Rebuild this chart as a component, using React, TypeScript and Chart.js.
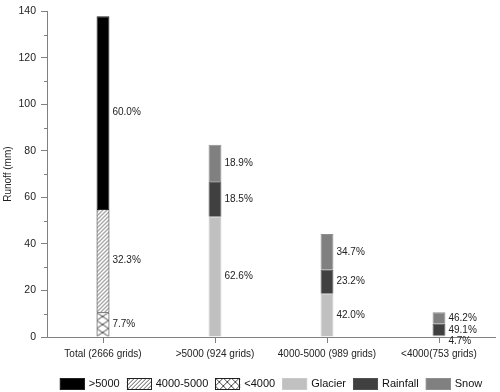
import React, { useEffect, useRef } from 'react';
import { Chart, registerables } from 'chart.js';

Chart.register(...registerables);

const categories = ['Total (2666 grids)', '>5000 (924 grids)', '4000-5000 (989 grids)', '<4000(753 grids)'];

// stacked runoff components (mm)
const seriesLt4000 = [10.6, null, null, null];
const series4000to5000 = [44.4, null, null, null];
const seriesGt5000 = [82.9, null, null, null];
const seriesGlacier = [null, 51.7, 18.6, 0.5];
const seriesRainfall = [null, 15.3, 10.3, 5.2];
const seriesSnow = [null, 15.6, 15.4, 4.9];

// percentage labels
const pctLt4000 = ['7.7%', null, null, null];
const pct4000to5000 = ['32.3%', null, null, null];
const pctGt5000 = ['60.0%', null, null, null];
const pctGlacier = [null, '62.6%', '42.0%', '4.7%'];
const pctRainfall = [null, '18.5%', '23.2%', '49.1%'];
const pctSnow = [null, '18.9%', '34.7%', '46.2%'];

const yMax = 140;
const yMajorStep = 20;
const yMinorValues = [10, 30, 50, 70, 90, 110, 130];
const legendOrder = ['>5000', '4000-5000', '<4000', 'Glacier', 'Rainfall', 'Snow'];
const yTitle = 'Runoff (mm)';

const FONT = '"Liberation Sans", Arial, Helvetica, sans-serif';

function makeHatch(): CanvasPattern | string {
  const c = document.createElement('canvas');
  c.width = 4; c.height = 4;
  const g = c.getContext('2d');
  if (!g) return '#ccc';
  g.fillStyle = '#fff';
  g.fillRect(0, 0, 4, 4);
  g.strokeStyle = '#444';
  g.lineWidth = 0.9;
  g.beginPath();
  g.moveTo(-1, 5); g.lineTo(5, -1);
  g.moveTo(-1, 1); g.lineTo(1, -1);
  g.moveTo(3, 5); g.lineTo(5, 3);
  g.stroke();
  return g.createPattern(c, 'repeat') as CanvasPattern;
}

function makeCross(w: number, h: number): CanvasPattern | string {
  const c = document.createElement('canvas');
  c.width = w; c.height = h;
  const g = c.getContext('2d');
  if (!g) return '#eee';
  g.fillStyle = '#fff';
  g.fillRect(0, 0, w, h);
  g.strokeStyle = '#333';
  g.lineWidth = 0.9;
  g.beginPath();
  g.moveTo(0, 0); g.lineTo(w, h);
  g.moveTo(0, h); g.lineTo(w, 0);
  g.stroke();
  return g.createPattern(c, 'repeat') as CanvasPattern;
}

export default function App() {
  const ref = useRef<HTMLCanvasElement | null>(null);

  useEffect(() => {
    document.body.style.margin = '0';
    const canvas = ref.current;
    if (!canvas) return;

    const hatch = makeHatch();
    const cross = makeCross(12, 8);
    const crossLegend = makeCross(8, 8);

    const datasets: any[] = [
      { label: '<4000', data: seriesLt4000, pct: pctLt4000, backgroundColor: cross, legendFill: crossLegend, borderColor: '#222', borderWidth: 1 },
      { label: '4000-5000', data: series4000to5000, pct: pct4000to5000, backgroundColor: hatch, borderColor: '#222', borderWidth: 1 },
      { label: '>5000', data: seriesGt5000, pct: pctGt5000, backgroundColor: '#000000', borderColor: '#222', borderWidth: 1 },
      { label: 'Glacier', data: seriesGlacier, pct: pctGlacier, backgroundColor: '#c0c0c0', borderColor: '#cacaca', borderWidth: 1 },
      { label: 'Rainfall', data: seriesRainfall, pct: pctRainfall, backgroundColor: '#404040', borderColor: '#505050', borderWidth: 1 },
      { label: 'Snow', data: seriesSnow, pct: pctSnow, backgroundColor: '#808080', borderColor: '#8e8e8e', borderWidth: 1 },
    ];

    const patternAlign = {
      id: 'patternAlign',
      beforeDatasetsDraw(chart: any) {
        chart.data.datasets.forEach((ds: any, di: number) => {
          const bg = ds.backgroundColor;
          if (!bg || typeof bg === 'string' || !bg.setTransform) return;
          const meta = chart.getDatasetMeta(di);
          const el = meta.data.find((e: any, i: number) => ds.data[i] != null);
          if (!el) return;
          const m = new DOMMatrix();
          m.e = el.x - el.width / 2;
          m.f = el.base;
          bg.setTransform(m);
        });
      },
    };

    const extras = {
      id: 'extras',
      afterDraw(chart: any) {
        const ctx = chart.ctx;
        const area = chart.chartArea;
        const yScale = chart.scales.y;
        ctx.save();
        // minor ticks on y axis
        ctx.strokeStyle = '#808080';
        ctx.lineWidth = 1;
        ctx.beginPath();
        yMinorValues.forEach((v) => {
          const y = Math.round(yScale.getPixelForValue(v)) + 0.5;
          ctx.moveTo(area.left - 3, y);
          ctx.lineTo(area.left, y);
        });
        ctx.stroke();

        // percentage labels
        ctx.font = `10px ${FONT}`;
        ctx.fillStyle = '#222';
        ctx.textAlign = 'left';
        ctx.textBaseline = 'middle';
        chart.data.labels.forEach((_: any, i: number) => {
          const items: { x: number; y: number; t: string }[] = [];
          chart.data.datasets.forEach((ds: any, di: number) => {
            const t = ds.pct && ds.pct[i];
            if (!t || ds.data[i] == null) return;
            const el = chart.getDatasetMeta(di).data[i];
            items.push({ x: el.x + el.width / 2 + 3, y: (el.y + el.base) / 2, t });
          });
          items.sort((a, b) => a.y - b.y);
          for (let k = 1; k < items.length; k++) {
            if (items[k].y < items[k - 1].y + 11) items[k].y = items[k - 1].y + 11;
          }
          items.forEach((it) => ctx.fillText(it.t, it.x, it.y));
        });

        // legend
        ctx.font = `11px ${FONT}`;
        const boxW = 25, boxH = 12, gapText = 4, gapItem = 7;
        const ordered = legendOrder.map((l) => chart.data.datasets.find((d: any) => d.label === l));
        const widths = ordered.map((d: any) => boxW + gapText + ctx.measureText(d.label).width);
        const total = widths.reduce((a: number, b: number) => a + b, 0) + gapItem * (ordered.length - 1);
        let x = (area.left + area.right) / 2 - total / 2;
        const cy = 384;
        ordered.forEach((d: any, k: number) => {
          const fill = d.legendFill || d.backgroundColor;
          if (fill && typeof fill !== 'string' && fill.setTransform) {
            const m = new DOMMatrix();
            m.e = x; m.f = cy - boxH / 2;
            fill.setTransform(m);
          }
          ctx.fillStyle = fill;
          ctx.fillRect(x, cy - boxH / 2, boxW, boxH);
          ctx.strokeStyle = d.borderColor;
          ctx.lineWidth = 1;
          ctx.strokeRect(Math.round(x) + 0.5, Math.round(cy - boxH / 2) + 0.5, boxW - 1, boxH - 1);
          ctx.fillStyle = '#111';
          ctx.textBaseline = 'middle';
          ctx.fillText(d.label, x + boxW + gapText, cy);
          x += widths[k] + gapItem;
        });
        ctx.restore();
      },
    };

    const chart = new Chart(canvas, {
      type: 'bar',
      data: { labels: categories, datasets },
      options: {
        animation: false,
        responsive: false,
        devicePixelRatio: 1,
        layout: { padding: { top: 8, right: 5, bottom: 30, left: 0 } },
        datasets: { bar: { categoryPercentage: 1, barPercentage: 0.115 } },
        plugins: { legend: { display: false }, tooltip: { enabled: false } },
        scales: {
          x: {
            stacked: true,
            offset: true,
            grid: { display: true, drawOnChartArea: false, drawTicks: true, tickLength: 6, offset: false, color: '#808080' },
            border: { display: true, color: '#808080', width: 1 },
            ticks: { color: '#222', font: { family: FONT, size: 10 }, padding: 5, maxRotation: 0, autoSkip: false },
            afterFit: (s: any) => { s.height = 25; },
          },
          y: {
            stacked: true,
            min: 0,
            max: yMax,
            grid: { display: true, drawOnChartArea: false, drawTicks: true, tickLength: 6, color: '#808080' },
            border: { display: true, color: '#808080', width: 1 },
            ticks: { stepSize: yMajorStep, color: '#222', font: { family: FONT, size: 10.5 }, padding: 5 },
            title: { display: true, text: yTitle, color: '#222', font: { family: FONT, size: 10 }, padding: { top: 2, bottom: 2 } },
            afterFit: (s: any) => { s.width = 47; },
          },
        },
      },
      plugins: [patternAlign, extras],
    } as any);

    return () => chart.destroy();
  }, []);

  return (
    <div style={{ width: 500, height: 392 }}>
      <canvas ref={ref} width={500} height={392} style={{ display: 'block' }} />
    </div>
  );
}
